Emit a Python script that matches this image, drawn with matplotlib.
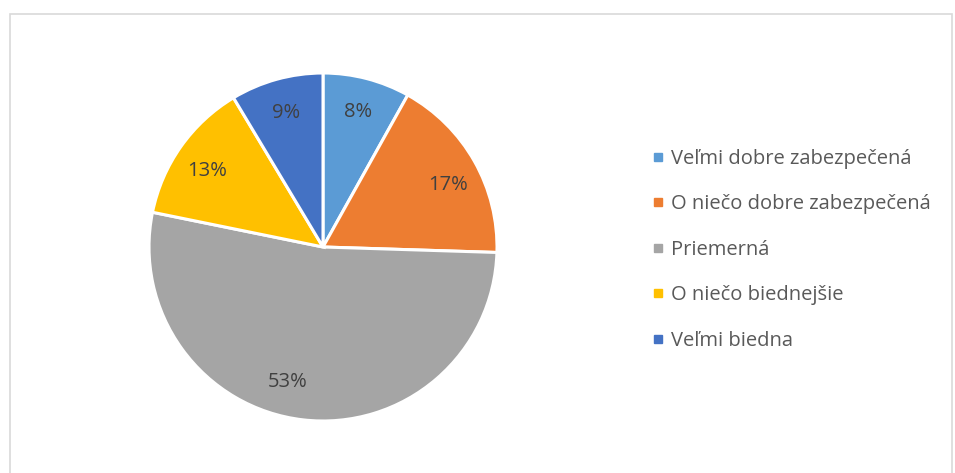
import numpy as np
import matplotlib.pyplot as plt
from matplotlib.patches import Rectangle
from matplotlib.lines import Line2D

plt.rcParams['font.family'] = ['Open Sans', 'DejaVu Sans']

# Dáta z grafu (odčítané z uhlov výsekov, popisky sú zaokrúhlené)
kategorie = ['Veľmi dobre zabezpečená', 'O niečo dobre zabezpečená', 'Priemerná',
             'O niečo biednejšie', 'Veľmi biedna']
hodnoty = [8.1, 17.4, 52.7, 13.2, 8.6]
farby = ['#5B9BD5', '#ED7D31', '#A5A5A5', '#FFC000', '#4472C4']

W, H = 955, 473
fig = plt.figure(figsize=(W / 100, H / 100), dpi=100)

# rámček okolo grafu
fig.patches.append(Rectangle((10 / W, -0.1), (952 - 10) / W, (H - 14) / H + 0.1,
                             transform=fig.transFigure, fill=False,
                             edgecolor='#D9D9D9', linewidth=1.2))

# stred koláča (323, 247), polomer 174 px
cx, cy, r = 323, H - 247, 174
ax = fig.add_axes([(cx - r) / W, (cy - r) / H, 2 * r / W, 2 * r / H])
wedges, texts, autotexts = ax.pie(hodnoty, colors=farby, startangle=90, counterclock=False,
                                  wedgeprops=dict(edgecolor='white', linewidth=2.2),
                                  autopct='%.0f%%', pctdistance=0.81,
                                  textprops=dict(color='#404040', fontsize=14.5))

# Excel posúva niektoré popisky mierne mimo stredu výseku
posun_uhla = [0, -3, -8, 2, 0]
for w, t, d in zip(wedges, autotexts, posun_uhla):
    uhol = np.deg2rad((w.theta1 + w.theta2) / 2 + d)
    t.set_position((0.8 * np.cos(uhol), 0.8 * np.sin(uhol)))

ax.set_xlim(-1, 1)
ax.set_ylim(-1, 1)
ax.axis('off')

handles = [Line2D([], [], marker='s', linestyle='', markersize=6,
                  markerfacecolor=f, markeredgecolor=f) for f in farby]
fig.legend(handles, kategorie, loc='upper left', bbox_to_anchor=(645 / W, 1 - 141 / H),
           frameon=False, fontsize=14.5, labelcolor='#595959', handlelength=0.5,
           handletextpad=0.4, labelspacing=1.26, borderaxespad=0)

fig.savefig('out.png', dpi=100)
